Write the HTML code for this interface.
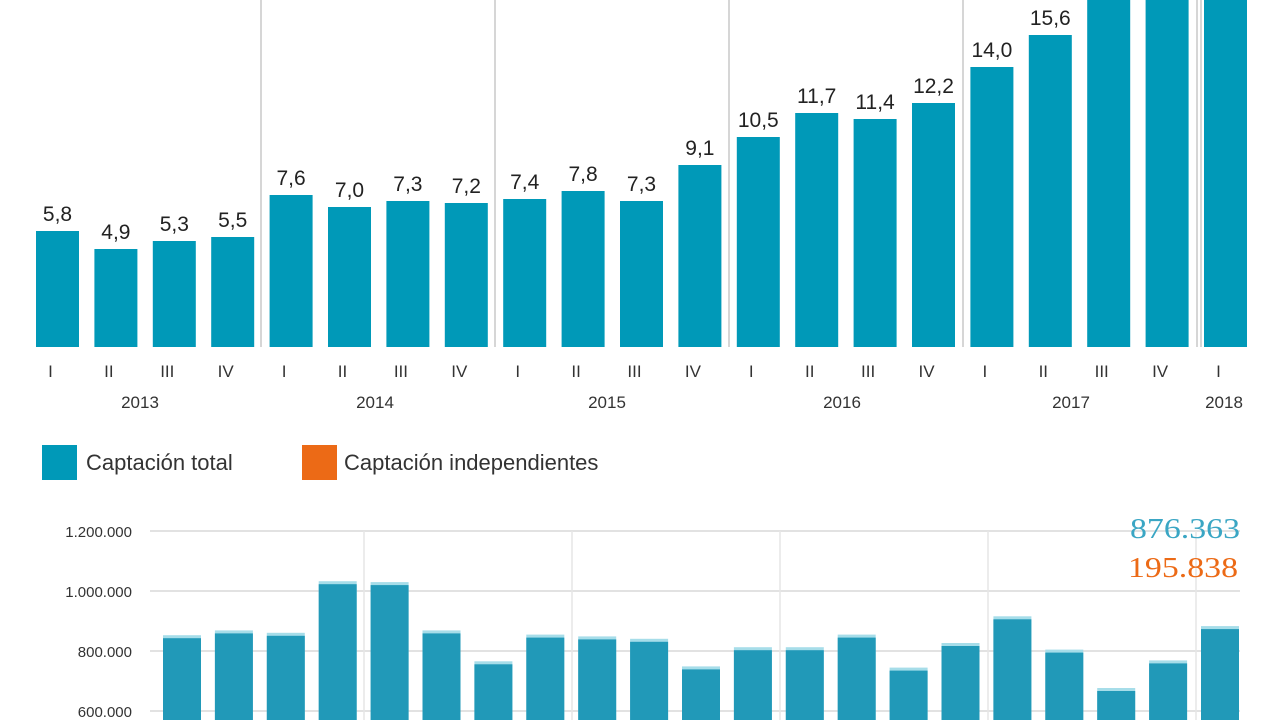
<!DOCTYPE html>
<html><head><meta charset="utf-8"><style>
html,body{margin:0;width:1280px;height:720px;overflow:hidden;background:#fff;font-family:"Liberation Sans",sans-serif}
svg{position:absolute;left:0;top:0;display:block}
</style></head><body>
<svg id="c" width="1280" height="720" xmlns="http://www.w3.org/2000/svg"></svg>
<script>
const quarters=["I","II","III","IV","I","II","III","IV","I","II","III","IV","I","II","III","IV","I","II","III","IV","I"];
const years=["2013","2014","2015","2016","2017","2018"];
const topValues=[5.8,4.9,5.3,5.5,7.6,7.0,7.3,7.2,7.4,7.8,7.3,9.1,10.5,11.7,11.4,12.2,14.0,15.6,18.5,19.0,19.5];
const topLabels=["5,8","4,9","5,3","5,5","7,6","7,0","7,3","7,2","7,4","7,8","7,3","9,1","10,5","11,7","11,4","12,2","14,0","15,6","","",""];
const bottomValues=[846000,862000,854000,1026000,1023000,862000,759000,848000,842000,834000,742000,806000,806000,848000,738000,820000,909000,798000,670000,762000,876363];
const bottomTicks=[600000,800000,1000000,1200000];
const bottomTickLabels=["600.000","800.000","1.000.000","1.200.000"];
const NS="http://www.w3.org/2000/svg";
const svg=document.getElementById('c');
function mk(t,a,txt){const e=document.createElementNS(NS,t);for(const k in a)e.setAttribute(k,a[k]);if(txt!=null)e.textContent=txt;svg.appendChild(e);return e;}
const tx=i=>36+i*58.4, tw=43, base=347;
const ty=v=>base-v*20;
[261,495,729,963,1197,1201].forEach(x=>{const l=mk('line',{x1:x,x2:x,y1:0,y2:347,stroke:'#d6d6d6','stroke-width':2});

});
topValues.forEach((v,i)=>{
 const y=Math.max(0,ty(v));
 const r=mk('rect',{x:tx(i),y:y,width:tw,height:base-y,fill:'#0099b8'});
 
 
 if(topLabels[i]){const t=mk('text',{x:tx(i)+tw/2,y:ty(v)-10,'text-anchor':'middle','font-size':21,fill:'#222'},topLabels[i]);
 
 }
 const q=mk('text',{x:tx(i)+tw/2-7,y:377,'text-anchor':'middle','font-size':17,fill:'#333'},quarters[i]);
 
 
});
const yearX=[140,375,607,842,1071,1224];
years.forEach((y,i)=>{const t=mk('text',{x:yearX[i],y:408,'text-anchor':'middle','font-size':17,fill:'#333'},y);

});
let e=mk('rect',{x:42,y:445,width:35,height:35,fill:'#0099b8'});


e=mk('text',{x:86,y:470,'font-size':22,fill:'#333'},'Captación total');


e=mk('rect',{x:302,y:445,width:35,height:35,fill:'#ec6a16'});


e=mk('text',{x:344,y:470,'font-size':22,fill:'#333'},'Captación independientes');


const by=v=>711-(v-600000)/200000*60;
const bx=i=>163+i*51.9, bw=38;
bottomTicks.forEach((t,i)=>{
 const l=mk('line',{x1:150,x2:1240,y1:by(t),y2:by(t),stroke:'#e2e2e2','stroke-width':2});
 
 
 const tt=mk('text',{x:132,y:by(t)+6,'text-anchor':'end','font-size':15,fill:'#333'},bottomTickLabels[i]);
 
 
});
[364,572,780,988,1196].forEach(x=>{const l=mk('line',{x1:x,x2:x,y1:531,y2:720,stroke:'#e6e6e6','stroke-width':1.5});

});
bottomValues.forEach((v,i)=>{
 const top=by(v);
 const c=mk('rect',{x:bx(i),y:top-2,width:bw,height:720-(top-2),fill:'#a6dde9'});
 
 
 const r=mk('rect',{x:bx(i),y:top+1,width:bw,height:720-(top+1),fill:'#2199b8'});
 
 
});
e=mk('text',{x:1240,y:538,'text-anchor':'end','font-size':29,fill:'#3aa6c4','font-family':'Liberation Serif, serif',textLength:110,lengthAdjust:'spacingAndGlyphs'},'876.363');


e=mk('text',{x:1238,y:577,'text-anchor':'end','font-size':29,fill:'#ec6a16','font-family':'Liberation Serif, serif',textLength:110,lengthAdjust:'spacingAndGlyphs'},'195.838');


</script>
</body></html>
